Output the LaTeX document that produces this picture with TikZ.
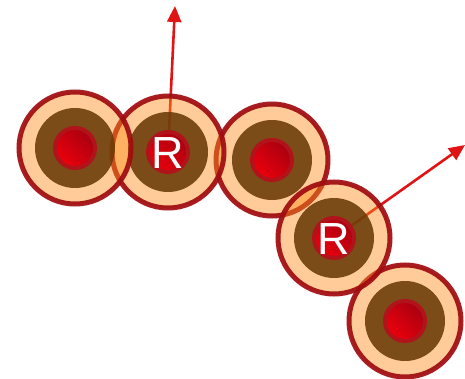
\documentclass[tikz,border=0pt]{standalone}
\usepackage{fontspec}
\setmainfont{Liberation Sans}
\usetikzlibrary{arrows.meta}
\definecolor{ringfill}{HTML}{FF8E1C}
\definecolor{rimred}{HTML}{A00C10}
\definecolor{browncore}{HTML}{6A3A06}
\definecolor{redA}{HTML}{EC000C}
\definecolor{redB}{HTML}{A80010}
\definecolor{redrim}{HTML}{B0141A}
\definecolor{arrowred}{HTML}{E01414}
\tikzset{
  vec/.style={draw=arrowred, line width=2.6pt, -{Triangle[length=16pt,width=14pt]}},
  rlabel/.style={text=white, font=\fontsize{45}{45}\selectfont, inner sep=0pt},
}
\newcommand{\granule}[2]{%
  \fill[ringfill, fill opacity=0.45] (#1) circle (56);
  \fill[browncore, fill opacity=0.88] (#1) circle (40);
  \draw[rimred, line width=5pt, draw opacity=0.93] (#1) circle (56);
  \shade[left color=redA, right color=redB, shading angle=135] (#1) circle (20);
  \draw[redrim, line width=4pt] (#1) circle (20);
  \coordinate (#2) at (#1);
}
\begin{document}
\begin{tikzpicture}[x=1pt,y=-1pt]
\useasboundingbox (0,0) rectangle (465,379);
\coordinate (c1) at (75,148);
\coordinate (c2) at (168,152);
\coordinate (c3) at (272,160);
\coordinate (c4) at (334,238);
\coordinate (c5) at (405,321);
\coordinate (t1) at (175,6);
\coordinate (t2) at (465,145);
\draw[vec] (c2) -- (t1);
\draw[vec] (c4) -- (t2);
\granule{c5}{g5}
\granule{c3}{g3}
\granule{c4}{g4}
\granule{c2}{g2}
\granule{c1}{g1}
\node[rlabel] (r1) at ([yshift=-1pt]g2) {R};
\node[rlabel] (r2) at ([yshift=-1pt]g4) {R};
\end{tikzpicture}
\end{document}
